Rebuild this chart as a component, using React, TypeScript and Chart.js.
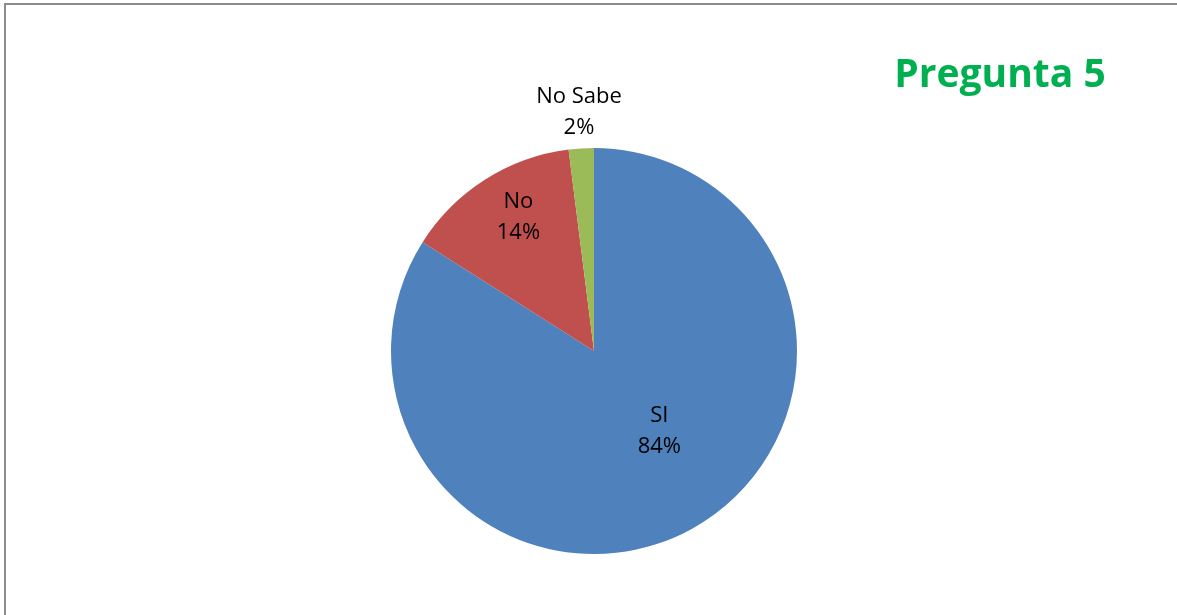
import React, { useEffect, useRef } from "react";
import { Chart, registerables } from "chart.js";

Chart.register(...registerables);

const categories = ["SI", "No", "No Sabe"];
const values = [84, 14, 2];
const percentLabels = ["84%", "14%", "2%"];
const sliceColors = ["#4F81BD", "#C0504D", "#9BBB59"];
const chartTitle = "Pregunta 5";

// label placement: radius as fraction of pie radius, angle tweak (radians)
const labelRadius = [0.51, 0.755, 1.177];
const labelAngleShift = [-0.18, 0.05, 0.0];

const FONT = "'Open Sans', Lato, sans-serif";

const labelPlugin = {
  id: "pieLabels",
  afterDatasetsDraw(chart: any) {
    const ctx = chart.ctx;
    const meta = chart.getDatasetMeta(0);
    ctx.save();
    ctx.fillStyle = "#000";
    ctx.font = `22px ${FONT}`;
    ctx.textAlign = "center";
    ctx.textBaseline = "middle";
    meta.data.forEach((arc: any, i: number) => {
      const p = arc.getProps(["x", "y", "startAngle", "endAngle", "outerRadius"], true);
      const mid = (p.startAngle + p.endAngle) / 2 + labelAngleShift[i];
      const r = p.outerRadius * labelRadius[i];
      const cx = p.x + Math.cos(mid) * r;
      const cy = p.y + Math.sin(mid) * r;
      ctx.fillText(categories[i], cx, cy - 15.5);
      ctx.fillText(percentLabels[i], cx, cy + 15.5);
    });
    // title
    ctx.fillStyle = "#00B050";
    ctx.font = `bold 39px ${FONT}`;
    ctx.textAlign = "center";
    ctx.textBaseline = "alphabetic";
    ctx.fillText(chartTitle, 1000, 87);
    ctx.restore();
  },
};

export default function App() {
  const ref = useRef<HTMLCanvasElement>(null);
  useEffect(() => {
    const chart = new Chart(ref.current!, {
      type: "pie",
      data: {
        labels: categories,
        datasets: [
          {
            data: values,
            backgroundColor: sliceColors,
            borderWidth: 0,
          },
        ],
      },
      options: {
        animation: false,
        responsive: false,
        maintainAspectRatio: false,
        layout: { padding: { top: 148, bottom: 61, left: 11, right: 0 } },
        plugins: {
          legend: { display: false },
          tooltip: { enabled: false },
          title: { display: false },
        },
      },
      plugins: [labelPlugin],
    });
    return () => chart.destroy();
  }, []);
  return (
    <div style={{ position: "fixed", left: 0, top: 0, width: 1177, height: 615, background: "#fff", overflow: "hidden" }}>
      <div
        style={{
          position: "absolute",
          left: 4,
          top: 3,
          width: 1200,
          height: 700,
          borderLeft: "2px solid #8c8c8c",
          borderTop: "2px solid #8c8c8c",
        }}
      />
      <canvas ref={ref} width={1177} height={615} style={{ position: "absolute", left: 0, top: 0 }} />
    </div>
  );
}
